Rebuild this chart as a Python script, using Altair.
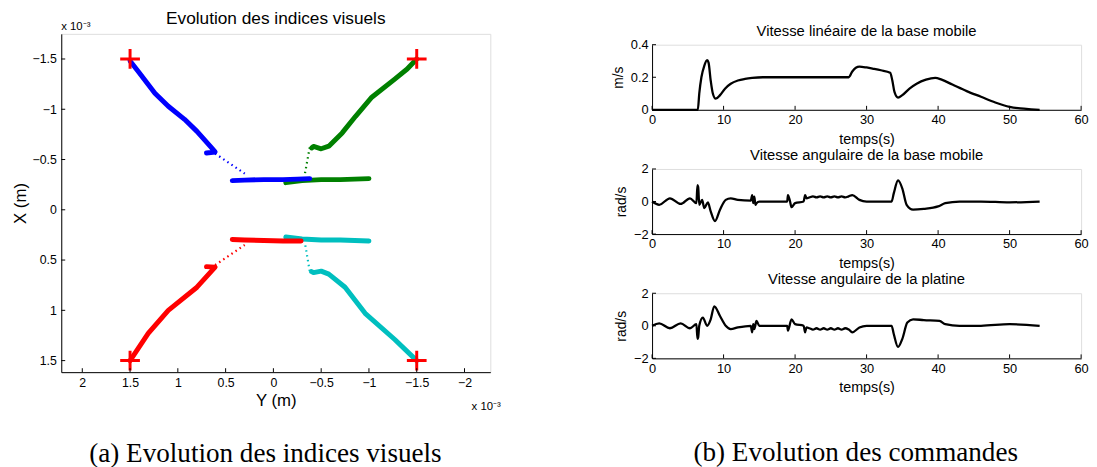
import altair as alt
import pandas as pd

# ---------------- Left panel: visual features (units of 1e-3 m) ----------------
blue_Y = [1.50, 1.41, 1.24, 1.10, 0.93, 0.80, 0.66, 0.61, 0.70]
blue_X = [-1.48, -1.37, -1.16, -1.03, -0.90, -0.78, -0.63, -0.575, -0.565]
green_Y = [-1.50, -1.40, -1.27, -1.03, -0.86, -0.72, -0.58, -0.50, -0.42, -0.40]
green_X = [-1.50, -1.40, -1.30, -1.12, -0.93, -0.765, -0.633, -0.607, -0.63, -0.615]
red_Y = [1.50, 1.31, 1.10, 0.80, 0.61, 0.70]
red_X = [1.50, 1.23, 1.00, 0.77, 0.57, 0.565]
cyan_Y = [-1.50, -1.27, -0.96, -0.75, -0.58, -0.50, -0.42, -0.40]
cyan_X = [1.50, 1.29, 1.03, 0.77, 0.64, 0.61, 0.625, 0.615]

blue_dot_Y = [0.61, 0.30]
blue_dot_X = [-0.56, -0.36]
green_dot_Y = [-0.38, -0.33]
green_dot_X = [-0.62, -0.36]
red_dot_Y = [0.61, 0.30]
red_dot_X = [0.55, 0.35]
cyan_dot_Y = [-0.38, -0.33]
cyan_dot_X = [0.61, 0.33]

blue_end_Y = [0.43, 0.30, 0.10, -0.10, -0.25, -0.38]
blue_end_X = [-0.29, -0.295, -0.30, -0.30, -0.305, -0.31]
green_end_Y = [-0.13, -0.30, -0.50, -0.70, -0.85, -1.00]
green_end_X = [-0.27, -0.29, -0.30, -0.30, -0.305, -0.31]
red_end_Y = [0.43, 0.30, 0.10, -0.10, -0.29]
red_end_X = [0.295, 0.30, 0.305, 0.31, 0.31]
cyan_end_Y = [-0.13, -0.30, -0.50, -0.70, -0.85, -1.00]
cyan_end_X = [0.27, 0.29, 0.30, 0.30, 0.305, 0.31]

cross_Y = [1.5, -1.5, 1.5, -1.5]
cross_X = [-1.5, -1.5, 1.5, 1.5]

Y_ticks = [2, 1.5, 1, 0.5, 0, -0.5, -1, -1.5, -2]
X_ticks = [-1.5, -1, -0.5, 0, 0.5, 1, 1.5]

BLUE, GREEN, RED, CYAN = "#0000ff", "#008000", "#ff0000", "#00bfbf"

# ---------------- Right panels: commands ----------------
t1 = [0, 6.4, 6.6, 6.9, 7.3, 7.7, 7.9, 8.2, 8.5, 8.9, 9.5, 10.2, 11, 12, 13, 14,
      15.5, 18, 22, 27.5, 28.0, 28.5, 29.0, 30, 31, 32, 33.3, 33.6, 33.9, 34.4,
      35, 36, 37, 38.3, 39.6, 40.5, 42, 44, 46, 48, 50, 51.5, 53, 54.2]
v1 = [0, 0, 0.10, 0.20, 0.27, 0.305, 0.29, 0.18, 0.10, 0.068, 0.09, 0.13, 0.16,
      0.18, 0.19, 0.196, 0.2, 0.2, 0.2, 0.2, 0.235, 0.258, 0.265, 0.26, 0.252,
      0.243, 0.228, 0.18, 0.11, 0.075, 0.09, 0.13, 0.16, 0.185, 0.196, 0.185,
      0.155, 0.115, 0.08, 0.045, 0.018, 0.008, 0.003, 0.0]

t2 = [0, 1.0, 2.5, 4.0, 5.3, 6.2, 6.35, 6.45, 6.6, 7.0, 7.3, 7.8, 8.2, 8.8, 9.5,
      10.3, 11, 12, 13.8, 14.0, 14.15, 14.3, 14.45, 14.6, 15.0, 18.9, 19.0, 19.3,
      19.5, 20.0, 21.2, 21.4, 21.6, 22, 22.5, 23, 23.5, 24, 24.5, 25, 25.5, 26,
      26.5, 27, 27.5, 28.0, 29.0, 30, 33.5, 33.8, 34.4, 35.0, 35.6, 36.5, 38, 40,
      41, 43, 46, 50, 54.2]
v2 = [0, -0.2, 0.2, -0.15, 0.2, -0.1, 1.0, 0.9, -0.2, 0.1, -0.4, -0.05, -0.6,
      -1.2, -0.5, 0.1, 0.2, 0.1, 0.05, 0.4, -0.1, 0.3, -0.2, -0.1, 0.0, 0.0, 0.4,
      0.0, -0.35, -0.1, 0.0, 0.4, 0.2, 0.25, 0.32, 0.25, 0.32, 0.25, 0.32, 0.25,
      0.32, 0.25, 0.32, 0.25, 0.32, 0.4, 0.1, 0.0, 0.0, 0.5, 1.3, 0.8, -0.2, -0.5,
      -0.45, -0.3, -0.1, 0.0, 0.0, -0.05, 0.0]

t3 = [0, 1.0, 2.5, 4.0, 5.3, 6.2, 6.35, 6.45, 6.6, 7.1, 7.7, 8.2, 8.7, 9.5, 10.3,
      11, 12, 13.8, 14.0, 14.15, 14.3, 14.6, 15.0, 18.9, 19.0, 19.5, 20.0, 21.2,
      21.4, 21.6, 22, 22.5, 23, 23.5, 24, 24.5, 25, 25.5, 26, 26.5, 27, 27.5, 28.0,
      29.0, 30, 33.5, 33.8, 34.4, 35.0, 35.7, 36.5, 38, 40.2, 41, 43, 46, 50, 54.2]
v3 = [0, 0.15, -0.15, 0.15, -0.15, 0.1, -0.8, -0.7, 0.0, 0.5, 0.0, 0.4, 1.2, 0.6,
      0.0, -0.2, -0.1, 0.0, -0.4, 0.1, -0.2, 0.3, 0.0, 0.0, -0.3, 0.4, 0.1, 0.0,
      -0.4, -0.1, -0.15, -0.23, -0.15, -0.23, -0.15, -0.23, -0.15, -0.23, -0.15,
      -0.23, -0.15, -0.23, -0.4, -0.1, 0.0, 0.0, -0.5, -1.3, -0.8, 0.2, 0.4, 0.35,
      0.3, 0.1, 0.0, 0.0, 0.1, 0.0]

t_ticks = [0, 10, 20, 30, 40, 50, 60]

FONT = "Liberation Sans"
SERIF = "Liberation Serif"

# ---------------- build left data ----------------
rows = []


def add(seg, color, style, Ys, Xs):
    for i, (yy, xx) in enumerate(zip(Ys, Xs)):
        rows.append(dict(seg=seg, color=color, style=style, i=i, Y=yy, X=xx))


add("b", BLUE, "solid", blue_Y, blue_X)
add("g", GREEN, "solid", green_Y, green_X)
add("r", RED, "solid", red_Y, red_X)
add("c", CYAN, "solid", cyan_Y, cyan_X)
add("bd", BLUE, "dot", blue_dot_Y, blue_dot_X)
add("gd", GREEN, "dot", green_dot_Y, green_dot_X)
add("rd", RED, "dot", red_dot_Y, red_dot_X)
add("cd", CYAN, "dot", cyan_dot_Y, cyan_dot_X)
add("ge", GREEN, "end1", green_end_Y, green_end_X)
add("ce", CYAN, "end1", cyan_end_Y, cyan_end_X)
add("be", BLUE, "end2", blue_end_Y, blue_end_X)
add("re", RED, "end2", red_end_Y, red_end_X)
left_df = pd.DataFrame(rows)

LW, LH = 435, 343
xs = alt.Scale(domain=[2.22, -2.27], nice=False, zero=False)
ys = alt.Scale(domain=[1.615, -1.75], nice=False, zero=False)


def mk_axis(values, title, lfs, tfs, tpad, lpad=5, fmt="~g"):
    return alt.Axis(values=values, format=fmt, title=title, grid=False, ticks=False,
                    labelPadding=lpad, labelFontSize=lfs, titleFontSize=tfs,
                    titlePadding=tpad, labelFlush=False, labelOverlap=False,
                    domainColor="#000", domainWidth=1, labelColor="#000",
                    titleColor="#000", titleFontWeight="normal",
                    labelFont=FONT, titleFont=FONT)


x_axis = mk_axis(Y_ticks, "Y (m)", 12.5, 17, 3)
y_axis = mk_axis(X_ticks, "X (m)", 12.5, 17, 3)

base = alt.Chart(left_df)


def seg_layer(style, width, dash=None):
    kw = dict(strokeWidth=width, strokeCap="round", strokeJoin="round")
    if dash:
        kw["strokeDash"] = dash
        kw["strokeCap"] = "butt"
    return base.transform_filter(alt.datum.style == style).mark_line(**kw).encode(
        x=alt.X("Y:Q", scale=xs, axis=x_axis),
        y=alt.Y("X:Q", scale=ys, axis=y_axis),
        color=alt.Color("color:N", scale=None),
        detail="seg:N",
        order="i:Q",
    )


solid = seg_layer("solid", 5)
dots = seg_layer("dot", 2.2, [1.5, 3.5])
end1 = seg_layer("end1", 5)
end2 = seg_layer("end2", 5)

crosses = alt.Chart(pd.DataFrame({"Y": cross_Y, "X": cross_X})).mark_point(
    shape="M-1,0L1,0M0,-1L0,1", size=400, strokeWidth=3, color=RED, filled=False,
    opacity=1).encode(x=alt.X("Y:Q", scale=xs, axis=x_axis),
                      y=alt.Y("X:Q", scale=ys, axis=y_axis))

xt = alt.Chart(pd.DataFrame({"Y": Y_ticks})).mark_rule(color="#000", strokeWidth=1).encode(
    x=alt.X("Y:Q", scale=xs, axis=x_axis), y=alt.value(LH), y2=alt.value(LH - 4))
yt = alt.Chart(pd.DataFrame({"X": X_ticks})).mark_rule(color="#000", strokeWidth=1).encode(
    y=alt.Y("X:Q", scale=ys, axis=y_axis), x=alt.value(0), x2=alt.value(4))


def label(txt, x, y, size, font=FONT, align="left"):
    return alt.Chart(pd.DataFrame({"s": [txt]})).mark_text(
        font=font, fontSize=size, align=align, baseline="middle", color="#000").encode(
        text="s:N", x=alt.value(x), y=alt.value(y))


sci = "x 10\u207b\u00b3"
left_title = "Evolution des indices visuels"
cap_a_txt = "(a) Evolution des indices visuels"
cap_b_txt = "(b) Evolution des commandes"

left = alt.layer(
    solid, dots, end1, end2, crosses, xt, yt,
    label(left_title, LW / 2, -15, 17.5, align="center"),
    label(sci, 0, -7, 11.5),
    label(sci, 416, 378, 11.5),
    label(cap_a_txt, 207, 426, 27.5, font=SERIF, align="center"),
).properties(width=LW, height=LH)

# ---------------- right panels ----------------
RW, RH = 435, 66


def panel(t, v, ydom, yvals, ytitle, title, caption=None):
    df = pd.DataFrame({"t": t, "v": v})
    xsc = alt.Scale(domain=[0, 60], nice=False, zero=False)
    ysc = alt.Scale(domain=ydom, nice=False, zero=False)
    xa = mk_axis(t_ticks, "temps(s)", 13, 14.5, 6, lpad=4, fmt="d")
    ya = mk_axis(yvals, ytitle, 13, 14, 5, lpad=4)
    line = alt.Chart(df).mark_line(color="#000", strokeWidth=2.3, strokeJoin="round",
                                   interpolate="monotone").encode(
        x=alt.X("t:Q", scale=xsc, axis=xa), y=alt.Y("v:Q", scale=ysc, axis=ya))
    xt_ = alt.Chart(pd.DataFrame({"t": t_ticks})).mark_rule(color="#000", strokeWidth=1).encode(
        x=alt.X("t:Q", scale=xsc, axis=xa), y=alt.value(RH), y2=alt.value(RH - 4))
    yt_ = alt.Chart(pd.DataFrame({"v": yvals})).mark_rule(color="#000", strokeWidth=1).encode(
        y=alt.Y("v:Q", scale=ysc, axis=ya), x=alt.value(0), x2=alt.value(4))
    layers = [line, xt_, yt_]
    if caption:
        layers.append(label(caption, 206.5, 162, 27.5, font=SERIF, align="center"))
    return alt.layer(*layers).properties(
        width=RW, height=RH,
        title=alt.TitleParams(title, font=FONT, fontSize=15, fontWeight="normal",
                              color="#000", offset=0))


p1 = panel(t1, v1, [0, 0.4], [0, 0.2, 0.4], "m/s", "Vitesse linéaire de la base mobile")
p2 = panel(t2, v2, [-2, 2], [-2, 0, 2], "rad/s", "Vitesse angulaire de la base mobile")
p3 = panel(t3, v3, [-2, 2], [-2, 0, 2], "rad/s", "Vitesse angulaire de la platine",
           caption=cap_b_txt)

spacer = alt.Chart(pd.DataFrame({"s": [""]})).mark_text().encode(text="s:N").properties(
    width=RW, height=1)
inner = alt.vconcat(p1, p2, p3, spacing=60, bounds="flush")
right = alt.vconcat(spacer, inner, spacing=10, bounds="flush")

chart = alt.hconcat(left, right, spacing=164, bounds="flush").properties(
    padding={"left": 2, "top": -2, "right": 0, "bottom": 0}
).configure_view(strokeWidth=0).configure(font=FONT)

chart.save("out.html", embed_options={"renderer": "svg", "actions": False})
